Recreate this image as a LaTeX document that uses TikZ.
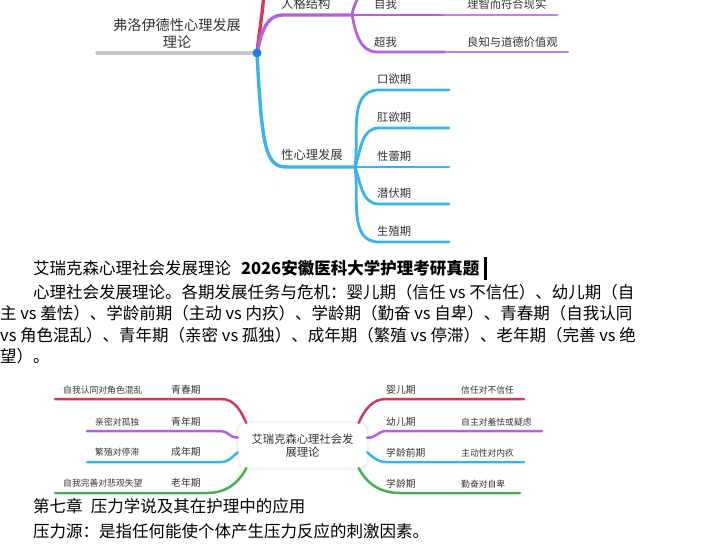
\documentclass[tikz,border=0pt]{standalone}
\usepackage{fontspec}
\setmainfont{Noto Sans CJK SC}
\usepackage{tikz}
\usetikzlibrary{calc}

\definecolor{mmred}{HTML}{D2385B}
\definecolor{mmpurple}{HTML}{B263DA}
\definecolor{mmcyan}{HTML}{3CB2E8}
\definecolor{mmgreen}{HTML}{48AF50}
\definecolor{mmgray}{HTML}{C8C8C8}
\definecolor{mmdot}{HTML}{1F7FE3}
\definecolor{mmtext}{HTML}{333333}

\begin{document}
\begin{tikzpicture}[x=1pt, y=-1pt,
    branch/.style={line width=3.4pt, line cap=round},
    twig/.style={line width=2.8pt, line cap=round},
    leaf/.style={line width=2.5pt, line cap=round},
    lbl/.style={anchor=west, inner sep=0pt, text=mmtext},
    fkey/.style={lbl, font=\fontsize{12.3}{14}\selectfont},
    fsub/.style={lbl, font=\fontsize{11.3}{13}\selectfont},
    ekey/.style={lbl, font=\fontsize{9.8}{12}\selectfont},
    esub/.style={lbl, font=\fontsize{8.8}{11}\selectfont},
    body/.style={anchor=west, inner sep=0pt, font=\fontsize{16.5}{20}\selectfont}]
    \useasboundingbox (0,0) rectangle (717,552);
    \clip (0,0) rectangle (717,552);

    % Freud map
    \coordinate (R) at (257,53);
    \coordinate (R0) at (97,53);
    \coordinate (Rtop) at (264,-8);
    \coordinate (P1) at (283,15);
    \coordinate (PJ) at (352,15);
    \coordinate (Ptop) at (360,-10);
    \coordinate (Pego) at (445,15);
    \coordinate (Pego2) at (557,15);
    \coordinate (Psup) at (377,52);
    \coordinate (Psup1) at (445,52);
    \coordinate (Psup2) at (568,52);
    \coordinate (C1) at (287,167);
    \coordinate (CJ) at (355,167);

    \draw[mmgray, branch] (R0) -- (R);
    \draw[mmred, branch] (R) to[out=84, in=-94] (Rtop);
    \draw[mmpurple, branch] (R) to[out=78, in=180] (P1) -- (PJ);
    \draw[mmpurple, twig] (PJ) to[out=82, in=-100] (Ptop);
    \draw[mmpurple, twig] (PJ) -- (Pego);
    \draw[mmpurple!80, leaf] (Pego) -- (Pego2);
    \draw[mmpurple, twig] (PJ) to[out=-78, in=180] (Psup) -- (Psup1);
    \draw[mmpurple!80, leaf] (Psup1) -- (Psup2);
    \draw[mmcyan, branch] (R) .. controls (262,150) and (266,167) .. (C1) -- (CJ);

    \foreach \y/\ang/\name/\txt in {90/82/oral/口欲期, 128/70/anal/肛欲期,
        167/0/phallic/性蕾期, 204/-70/latent/潜伏期, 242/-82/genital/生殖期} {
      \coordinate (s-\name) at (379,\y);
      \coordinate (e-\name) at (449,\y);
      \draw[mmcyan, twig] (CJ) to[out=\ang, in=180] (s-\name) -- (e-\name);
      \node[fsub] (n-\name) at (377,\y-11) {\txt};
    }

    \node[circle, fill=mmdot, inner sep=0pt, minimum size=9pt] (dot) at (R) {};

    \node[text=mmtext, align=center, inner sep=0pt,
        font=\fontsize{14.2}{17}\selectfont] (freud) at (177,33.5) {弗洛伊德性心理发展\\理论};
    \node[fkey] (pers) at (281,4) {人格结构};
    \node[fsub] (ego) at (374,4) {自我};
    \node[fsub] (egotxt) at (467,4) {理智而符合现实};
    \node[fsub] (sup) at (374,42) {超我};
    \node[fsub] (suptxt) at (467,42) {良知与道德价值观};
    \node[fkey] (psy) at (281,155) {性心理发展};

    % text
    \node[body] (l1) at (33,268) {艾瑞克森心理社会发展理论\hspace{0.6em}\textbf{2026安徽医科大学护理考研真题}};
    \draw[line width=2.6pt] ($(l1.east)+(6,-11)$) -- ($(l1.east)+(6,12)$);
    \node[body] (l2) at (33,292) {心理社会发展理论。各期发展任务与危机：婴儿期（信任 vs 不信任）、幼儿期（自};
    \node[body] (l3) at (0,313) {主 vs 羞怯）、学龄前期（主动 vs 内疚）、学龄期（勤奋 vs 自卑）、青春期（自我认同};
    \node[body] (l4) at (0,335) {vs 角色混乱）、青年期（亲密 vs 孤独）、成年期（繁殖 vs 停滞）、老年期（完善 vs 绝};
    \node[body] (l5) at (0,356) {望）。};

    % Erikson map
    \fill[black!4, rounded corners=9pt] (236,421) rectangle (369,470);
    \node[draw=black!10, fill=white, rounded corners=8pt, minimum width=129pt,
        minimum height=45pt, align=center, text=mmtext,
        font=\fontsize{11.3}{13.5}\selectfont] (erik) at (302.5,445.5) {艾瑞克森心理社会发\\展理论};

    \coordinate (ra1) at (386,399);  \coordinate (rb1) at (524,399);
    \coordinate (ra2) at (386,431);  \coordinate (rb2) at (542,431);
    \coordinate (ra3) at (386,462);  \coordinate (rb3) at (524,462);
    \coordinate (ra4) at (400,493);  \coordinate (rb4) at (520,493);
    \coordinate (la1) at (221,399);  \coordinate (lb1) at (55,399);
    \coordinate (la2) at (221,431);  \coordinate (lb2) at (87,431);
    \coordinate (la3) at (221,462);  \coordinate (lb3) at (87,462);
    \coordinate (la4) at (207,493);  \coordinate (lb4) at (55,493);

    \draw[mmred, leaf] (erik.22) to[out=65, in=180] (ra1) -- (rb1);
    \draw[mmpurple, leaf] (erik.7) to[out=-10, in=180] (ra2) -- (rb2);
    \draw[mmcyan, leaf] (erik.-6) to[out=-40, in=180] (ra3) -- (rb3);
    \draw[mmgreen, leaf] (erik.-22) to[out=-62, in=180] (ra4) -- (rb4);
    \draw[mmred, leaf] (erik.158) to[out=115, in=0] (la1) -- (lb1);
    \draw[mmpurple, leaf] (erik.173) to[out=190, in=0] (la2) -- (lb2);
    \draw[mmcyan, leaf] (erik.186) to[out=220, in=0] (la3) -- (lb3);
    \draw[mmgreen, leaf] (erik.202) to[out=242, in=0] (la4) -- (lb4);

    \node[ekey] (infant) at (386,390) {婴儿期};
    \node[esub] (infanttxt) at (461,390) {信任对不信任};
    \node[ekey] (toddler) at (386,422) {幼儿期};
    \node[esub] (toddlertxt) at (461,422) {自主对羞怯或疑虑};
    \node[ekey] (preschool) at (386,453) {学龄前期};
    \node[esub] (preschooltxt) at (461,453) {主动性对内疚};
    \node[ekey] (school) at (386,484) {学龄期};
    \node[esub] (schooltxt) at (461,484) {勤奋对自卑};

    \node[ekey] (teen) at (171,390) {青春期};
    \node[esub] (teentxt) at (63,390) {自我认同对角色混乱};
    \node[ekey] (young) at (171,422) {青年期};
    \node[esub] (youngtxt) at (95,422) {亲密对孤独};
    \node[ekey] (adult) at (171,452) {成年期};
    \node[esub] (adulttxt) at (95,452) {繁殖对停滞};
    \node[ekey] (old) at (171,483) {老年期};
    \node[esub] (oldtxt) at (63,483) {自我完善对悲观失望};

    % text
    \node[body] (b1) at (33,506) {第七章\hspace{0.5em}压力学说及其在护理中的应用};
    \node[body] (b2) at (33,531) {压力源：是指任何能使个体产生压力反应的刺激因素。};
\end{tikzpicture}
\end{document}
